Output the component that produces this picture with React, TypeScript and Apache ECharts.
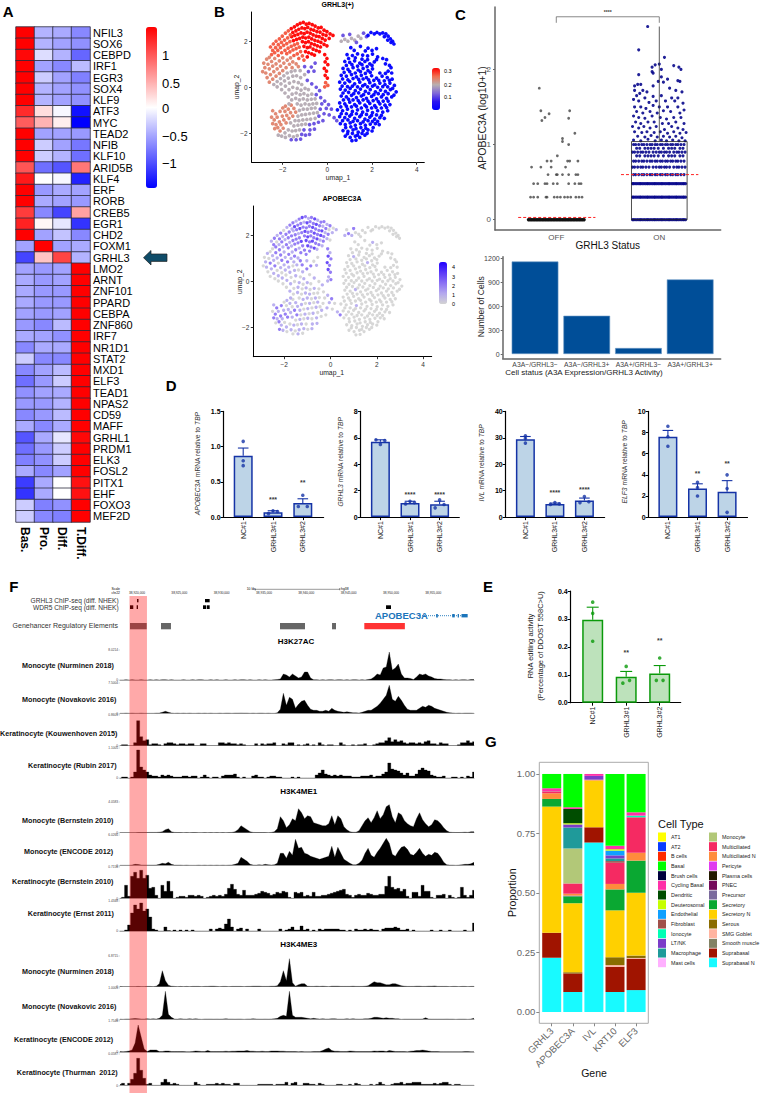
import React, { useEffect, useRef } from "react";
import * as echarts from "echarts";

const FONT = '"Liberation Sans", Arial, sans-serif';

// ---------- A: heatmap ----------
const heatGenes = ["NFIL3","SOX6","CEBPD","IRF1","EGR3","SOX4","KLF9","ATF3","MYC","TEAD2","NFIB","KLF10","ARID5B","KLF4","ERF","RORB","CREB5","EGR1","CHD2","FOXM1","GRHL3","LMO2","ARNT","ZNF101","PPARD","CEBPA","ZNF860","IRF7","NR1D1","STAT2","MXD1","ELF3","TEAD1","NPAS2","CD59","MAFF","GRHL1","PRDM1","ELK3","FOSL2","PITX1","EHF","FOXO3","MEF2D"];
const heatStages = ["Bas.","Pro.","Diff.","T.Diff."];
const heatValues = [
[1.5,-.45,-.5,-.7],[1.5,-.45,-.55,-.65],[1.45,-.2,-.45,-.9],[1.5,-.55,-.7,-.4],[1.5,-.3,-.55,-.75],[1.5,-.45,-.55,-.65],[1.5,-.45,-.55,-.65],[1.25,.2,-.05,-1.4],[.95,.45,.1,-1.5],[1.5,-.55,-.55,-.6],[1.5,-.3,-.55,-.8],[1.5,-.3,-.45,-.85],[1,-.85,-1,.8],[1.35,0,-.05,-1.3],[1.5,-.6,-.5,-.55],[1.5,-.5,-.55,-.6],[1.15,-.7,-1.1,.55],[1.3,.05,-.15,-1.2],[1.5,-.55,-.35,-.7],[-.55,1.5,-.55,-.5],[-1.1,.35,1.1,-.45],
[-.55,-.6,-.55,1.5],[-.5,-.6,-.55,1.5],[-.5,-.6,-.6,1.5],[-.5,-.6,-.6,1.5],[-.55,-.6,-.55,1.5],[-.6,-.7,-.4,1.5],[-.5,-.55,-.65,1.5],[-.7,-.5,-.5,1.5],[-.3,-.7,-.7,1.5],[-.7,-.55,-.4,1.5],[-.85,-.6,-.3,1.5],[-.65,-.55,-.5,1.5],[-.6,-.6,-.45,1.5],[-.7,-.6,-.4,1.5],[-.5,-.7,-.5,1.5],[-1,-.5,-.15,1.45],[-.85,-.6,-.3,1.5],[-.75,-.65,-.3,1.5],[-.5,-.7,-.55,1.5],[-1.15,-.5,0,1.4],[-1.2,-.5,0,1.4],[-.3,-.75,-.65,1.5],[-.3,-.7,-.75,1.5]];

// ---------- B: UMAP, [umap_1, umap_2, APOBEC3A], grouped by GRHL3(+) score ----------
const umapRed = [[-1.62,2.55,2],[-1.48,2.62,1],[-1.35,2.71,2],[-1.22,2.78,3],[-1.08,2.82,2],[-.95,2.74,1],[-.82,2.78,2],[-.68,2.72,3],[-.55,2.66,1],[-.41,2.58,2],[-.28,2.6,2],[-.15,2.48,1],[-.02,2.42,2],[.12,2.32,0],[.25,2.25,1],[-1.55,2.38,3],[-1.41,2.45,2],[-1.28,2.52,2],[-1.14,2.58,1],[-1.01,2.55,3],[-.88,2.6,2],[-.74,2.52,2],[-.61,2.48,3],[-.47,2.42,2],[-.33,2.4,1],[-.2,2.3,2],[-.06,2.25,0],[.08,2.12,1],[-1.6,2.2,1],[-1.46,2.25,2],[-1.32,2.3,3],[-1.18,2.36,2],[-1.04,2.33,2],[-.91,2.4,2],[-.77,2.35,3],[-.64,2.28,2],[-.5,2.22,2],[-.37,2.2,3],[-.23,2.12,1],[-.1,2.05,2],[-1.52,2.03,2],[-1.38,2.08,1],[-1.24,2.12,2],[-1.1,2.18,3],[-.97,2.14,2],[-.83,2.18,2],[-.7,2.1,3],[-.56,2.04,2],[-.42,2,3],[-.29,1.95,2],[-.15,1.86,1],[-.02,1.8,0],[-1.12,1.98,2],[-.98,1.94,3],[-.85,1.98,2],[-.72,1.9,2],[-.58,1.85,3],[-.45,1.8,1],[-.31,1.75,2],[-1.05,1.78,3],[-.9,1.72,2],[-.78,1.75,3],[-.64,1.66,2],[-.5,1.6,2],[-.36,1.55,1],[-.98,1.55,3],[-.84,1.5,2],[-.7,1.45,3],[-.58,1.4,1],[-.9,1.32,2],[-.12,1.42,2],[-.02,1.25,1],[-.1,1.1,3],[.02,.98,2],[-.14,.82,3],[-.04,.7,2],[-.1,.52,3],[0,.4,2]];
const umapOrange = [[-2.55,1.75,1],[-2.42,1.88,2],[-2.3,2,1],[-2.15,2.1,2],[-2.02,2.22,0],[-1.88,2.35,1],[-1.75,2.45,2],[-2.45,1.6,2],[-2.32,1.72,0],[-2.2,1.85,2],[-2.06,1.95,1],[-1.92,2.05,2],[-1.78,2.15,2],[-1.66,2.28,1],[-2.5,1.42,0],[-2.36,1.5,2],[-2.22,1.6,1],[-2.1,1.72,2],[-1.96,1.82,1],[-1.82,1.9,2],[-1.68,1.98,2],[-2.2,1.38,2],[-2.05,1.5,1],[-1.9,1.6,2],[-1.76,1.7,1],[-1.62,1.78,2],[-1.48,1.84,2],[-1.34,1.9,2],[-1.82,1.46,2],[-1.68,1.54,1],[-1.54,1.62,2],[-1.4,1.68,2],[-1.26,1.74,3],[-1.2,1.55,2],[-1.35,1.45,1],[-1.5,1.38,2],[-1.12,1.36,2],[-1.28,1.25,2],[-1.05,1.18,2],[-.08,.2,1],[.02,.08,2],[-.12,.02,1]];
const umapSalmon = [[-2.85,1.05,0],[-2.72,1.22,1],[-2.6,1.3,0],[-2.8,.85,1],[-2.66,1,0],[-2.5,1.12,1],[-2.36,1.25,2],[-2.9,.68,0],[-2.76,.62,1],[-2.6,.8,2],[-2.45,.92,1],[-2.3,1.02,1],[-2.15,1.15,2],[-2,1.28,1],[-2.7,.42,0],[-2.55,.55,1],[-2.4,.68,2],[-2.25,.8,0],[-2.1,.92,2],[-1.95,1.05,1],[-1.8,1.18,2],[-1.65,1.28,1],[-2.6,.22,0],[-2.45,.35,1],[-2.3,.48,0],[-2.15,.6,1],[-2,.72,1],[-1.85,.85,2],[-1.7,1,1],[-1.55,1.1,2],[-1.4,1.02,1],[-1.58,.85,1],[-1.3,.9,2],[-2.45,-1.02,1],[-2.32,-1.15,2],[-2.5,-1.3,0],[-2.38,-1.42,2],[-2.25,-1.3,1],[-2.12,-1.05,2],[-2,-.9,0],[-1.88,-.82,1],[-2.45,-1.58,2],[-2.3,-1.62,1],[-2.15,-1.5,2],[-2.02,-1.25,1],[-1.9,-1.05,0],[-1.75,-.95,1],[-2.36,-1.8,0],[-2.22,-1.75,2],[-2.08,-1.62,1],[-1.95,-1.42,2],[-1.82,-1.22,1],[-1.65,-1.1,0],[-2.12,-1.9,1],[-1.98,-1.78,0],[-1.85,-1.55,2],[-1.72,-1.35,1],[-1.55,-1.25,2],[-1.42,-1.08,1],[-1.62,-.78,0],[-1.5,-.92,1]];
const umapGrey = [[-2.4,.12,0],[-2.25,.25,1],[-2.1,.38,0],[-1.95,.5,1],[-1.8,.62,1],[-1.62,.68,0],[-1.45,.72,1],[-1.22,.72,2],[-2.25,.02,0],[-2.08,.15,1],[-1.92,.28,0],[-1.75,.4,1],[-1.55,.48,1],[-1.38,.5,0],[-1.2,.42,1],[-1.02,.55,2],[-2.05,-.1,0],[-1.88,.05,1],[-1.7,.18,0],[-1.5,.25,1],[-1.3,.2,0],[-1.15,.12,1],[-1.9,-.25,0],[-1.72,-.1,1],[-1.55,0,0],[-1.35,-.05,1],[-1.18,-.12,0],[-1,-.05,1],[-.85,-.1,0],[-1.75,-.42,1],[-1.58,-.3,0],[-1.4,-.25,1],[-1.22,-.32,0],[-1.05,-.28,1],[-.88,-.35,0],[-.7,-.3,1],[-1.6,-.55,0],[-1.42,-.48,1],[-1.25,-.55,0],[-1.08,-.5,1],[-.9,-.55,1],[-.72,-.52,0],[-.55,-.5,0],[-1.72,-.72,1],[-1.35,-.72,0],[-1.18,-.78,1],[-1,-.72,1],[-.82,-.75,0],[-.65,-.72,1],[-.48,-.7,0],[-1.25,-1,1],[-1.08,-.95,0],[-.9,-.95,1],[-.72,-.92,0],[-.55,-.9,1],[-1.32,-1.25,1],[-1.15,-1.2,0],[-.98,-1.18,1],[-.8,-1.15,0],[-.62,-1.12,1],[-.45,-1.1,0],[-1.45,-1.45,2],[-1.28,-1.45,0],[-1.1,-1.42,1],[-.92,-1.4,0],[-.75,-1.38,1],[-.55,-1.35,0],[-1.65,-1.55,1],[-1.5,-1.68,0],[-1.32,-1.65,1],[-1.15,-1.62,0],[-.98,-1.6,1],[-1.9,-1.98,1],[-1.75,-1.85,0],[-1.58,-1.9,1],[-1.42,-1.88,0],[-1.25,-1.85,1],[-2.2,-2.08,2],[-2.05,-2.12,1],[-1.88,-2.18,0],[-1.7,-2.1,1],[-1.52,-2.15,0],[-1.35,-2.1,1],[.62,2,1],[.78,2.08,2],[.92,2,1],[1.08,2.12,0],[1.22,2.05,0],[1.38,2.22,0],[1.5,2.12,0]];
const umapMid = [[-1.02,.9,1],[-.85,.68,2],[-.72,.88,0],[-.6,.7,1],[-.55,1.05,0],[-.9,.3,0],[-.7,.15,1],[-.5,0,0],[-.35,-.15,1],[-.5,-.32,0],[-.3,-.45,0],[-.12,-.6,1],[.05,-.75,2],[-.25,-.72,0],[-.05,-.92,1],[.18,-.95,0],[-.32,-.95,0],[-.15,-1.15,1],[.08,-1.2,0],[.3,-1.32,1],[-.38,-1.25,1],[-.2,-1.45,0],[.42,-1.45,2],[-.4,-1.52,0],[-.6,-1.58,1],[-.8,-1.62,0],[-.58,-1.82,1],[-.78,-1.85,1],[-1.05,-1.85,0],[-1.15,-2.05,1],[-.98,-2.08,0],[-.8,-2.05,1],[-1.2,-2.25,0],[-1.4,-2.28,1],[-1.62,-2.28,0],[.7,2.25,0],[1,2.3,2],[1.3,1.95,0],[1.62,2.35,0],[1.75,2.2,0]];
const umapBlue = [[1.05,1.72],[1.48,1.78],[1.82,1.7,1],[2.2,1.68],[.88,1.42],[1.12,1.38],[1.35,1.45],[1.58,1.4],[1.8,1.36],[2.02,1.44],[2.25,1.32],[2.48,1.25],[.78,1.12],[1,1.08,1],[1.22,1.15],[1.45,1.05],[1.68,1.12],[1.9,1.02],[2.1,1.1],[2.6,1.02],[2.78,.95],[.7,.82],[.92,.78],[1.15,.85],[1.38,.75],[1.6,.82,1],[1.82,.72],[2.02,.8],[2.72,.7],[2.88,.62],[.62,.52],[.85,.48],[1.08,.55],[1.3,.45],[1.52,.52],[1.75,.42],[1.98,.5],[2.2,.4],[2.45,.48],[2.68,.42],[2.9,.35],[.55,.22],[.78,.18],[1,.25],[1.22,.15],[1.45,.22],[1.68,.12],[1.9,.2],[2.12,.1],[2.35,.18],[2.58,.12],[2.8,.18],[3,.08],[.58,-.08],[.8,-.12],[1.02,-.05],[1.25,-.15],[1.48,-.08],[1.7,-.18],[1.92,-.1],[2.15,-.2],[2.38,-.12],[2.6,-.18],[2.82,-.1],[3.08,-.2],[.62,-.38],[.85,-.42],[1.08,-.35,1],[1.3,-.45],[1.52,-.38],[1.75,-.48],[1.98,-.4],[2.2,-.5],[2.42,-.42],[2.65,-.48],[2.88,-.42],[.55,-.68],[.78,-.72],[1,-.65],[1.22,-.75],[1.45,-.68],[1.68,-.78],[1.9,-.7],[2.12,-.8],[2.35,-.72],[2.58,-.78],[2.8,-.75],[.45,-.98],[.68,-1.02],[.9,-.95],[1.12,-1.05,1],[1.35,-.98],[1.58,-1.08],[1.8,-1],[2.02,-1.1],[2.25,-1.02],[2.48,-1.08],[2.7,-1.02],[.55,-1.28],[.78,-1.32],[1,-1.25],[1.22,-1.35],[1.45,-1.28],[1.68,-1.38],[1.9,-1.3],[2.12,-1.38],[2.35,-1.32],[2.55,-1.35],[.58,-1.58],[.8,-1.62],[1.02,-1.55],[1.25,-1.65],[1.48,-1.58],[1.7,-1.65],[1.92,-1.6],[2.15,-1.58],[2.32,-1.62],[.7,-1.88],[.92,-1.92],[1.15,-1.85],[1.38,-1.95],[1.6,-1.88],[1.82,-1.85],[2,-1.9],[.8,-2.12],[1.02,-2.18],[1.25,-2.12],[1.45,-2.18],[1.68,-2.08],[1.1,-2.32],[1.28,-2.3],[1.82,2.25],[1.95,2.38],[2.1,2.32],[2.22,2.38],[2.35,2.32],[2.48,2.36],[2.62,2.32],[2.72,2.22],[2.82,2.1],[2.92,2],[2.98,1.88],[2.85,1.95],[2.7,2.05],[2.55,2.2],
[1.2,1.6],[1.7,1.58],[2,1.6],[.95,1.25],[1.25,1.28],[1.55,1.22],[1.8,1.2],[2.2,1.2],[2.65,1.2],[.85,.95],[1.1,.98],[1.35,.92],[1.55,.98],[1.78,.9],[2,.95],[2.85,.85],[.75,.65],[1,.68],[1.25,.62],[1.48,.68],[1.7,.6],[1.92,.65],[2.35,.62],[2.6,.6],[.68,.36],[.92,.32],[1.15,.38],[1.4,.34],[1.6,.36],[1.85,.32],[2.08,.3],[2.3,.3],[2.55,.28],[2.78,.3],[.66,.05],[.9,.03],[1.12,.05],[1.35,.02],[1.58,.06],[1.8,.02],[2.02,.05],[2.25,0],[2.48,.03],[2.7,.02],[2.92,-.05],[.7,-.25],[.95,-.22],[1.18,-.28],[1.4,-.24],[1.62,-.32],[1.85,-.26],[2.08,-.32],[2.28,-.28],[2.5,-.32],[2.72,-.28],[2.98,-.34],[.72,-.55],[.95,-.52],[1.15,-.55],[1.38,-.58],[1.6,-.55],[1.82,-.6],[2.05,-.58],[2.28,-.62],[2.5,-.6],[2.72,-.6],[.6,-.85],[.85,-.82],[1.08,-.85],[1.3,-.82],[1.52,-.9],[1.75,-.85],[1.98,-.9],[2.18,-.88],[2.42,-.9],[2.65,-.88],[.62,-1.15],[.85,-1.15],[1.08,-1.18],[1.3,-1.15],[1.52,-1.2],[1.75,-1.18],[1.98,-1.22],[2.2,-1.2],[2.42,-1.22],[.68,-1.45],[.92,-1.42],[1.15,-1.48],[1.35,-1.45],[1.6,-1.5],[1.82,-1.45],[2.02,-1.48],[2.25,-1.48],[.82,-1.75],[1.05,-1.72],[1.28,-1.8],[1.5,-1.75],[1.72,-1.78],[2.05,-1.75],[.9,-2.02],[1.12,-2],[1.35,-2.08],[1.55,-2],[1.78,-2]];
const umapGroups = [{ score: .325, pts: umapRed }, { score: .275, pts: umapOrange }, { score: .24, pts: umapSalmon }, { score: .19, pts: umapGrey }, { score: .11, pts: umapMid }, { score: 0, pts: umapBlue }];

// ---------- C: jitter plot, offset from group centre per discrete level ----------
const offLevel0 = [-.27,-.255,-.24,-.225,-.21,-.195,-.18,-.165,-.15,-.135,-.12,-.105,-.09,-.075,-.06,-.045,-.03,-.015,0,.015,.03,.045,.06,.075,.09,.105,.12,.135,.15,.165,.18,.195,.21,.225,.24,.255,.27];
const offRows = [[.3,[-.25,-.22,-.18,-.1,-.09,-.02,.01,.04,.08,.11,.14,.19,.22,.25]],[.48,[-.22,-.18,-.11,-.09,-.03,.01,.12,.18,.22,.24]],[.6,[-.08,0,.01,.06,.12,.19,.21]],[.7,[-.24,-.15,-.05,.09]],[.78,[-.09,-.05,.11,.13,.21]],[.85,[.01]]];
const offScatter = [[.06,1.08],[.06,1.04],[.12,1],[.18,1.15],[.12,1.35],[.13,1.45],[-.15,1.45],[-.14,1.32],[-.11,1.36],[-.07,1.41],[-.165,1.75]];
const onDense = [-.26,-.25,-.235,-.22,-.205,-.19,-.18,-.165,-.15,-.135,-.12,-.11,-.095,-.08,-.065,-.05,-.04,-.025,-.01,.005,.02,.03,.045,.06,.075,.09,.1,.115,.13,.145,.16,.17,.185,.2,.215,.23,.24,.255];
const onRowA = [-.25,-.23,-.2,-.17,-.15,-.12,-.09,-.07,-.04,-.02,.01,.03,.06,.08,.11,.13,.16,.18,.21,.24];
const onRowB = [-.26,-.24,-.21,-.18,-.16,-.13,-.1,-.06,-.03,0,.02,.05,.07,.1,.14,.17,.19,.22,.25];
const onRowC = [-.22,-.19,-.14,-.11,-.08,-.05,-.01,.04,.09,.12,.15,.2,.23];
const onRows = [[0,onDense],[.3,onDense],[.48,onDense],[.6,onRowA],[.7,onRowB],[.78,onRowA],[.85,onRowC],[.9,onRowB],[.95,onRowC],[1,onRowA]];
const onScatter = [[-.113,2.57],[-.2,2.26],[.05,2.16],[0,2.07],[-.04,2.06],[-.07,2.03],[.14,2.05],[.19,2.03],[.21,2],[.02,2],[-.07,1.97],[-.2,1.93],[-.06,1.95],[.02,1.9],[.08,1.87],[.04,1.83],[.2,1.84],[.18,1.85],[-.01,1.84],[-.18,1.8],[-.21,1.8],[-.24,1.78],[-.06,1.78],[.1,1.75],[.16,1.72],[.22,1.7],[-.24,1.72],[-.16,1.72],[-.19,1.68],[-.12,1.7],[-.22,1.65],[-.14,1.62],[-.06,1.64],[.02,1.65],[.12,1.62],[.18,1.62],[-.25,1.6],[-.2,1.58],[-.1,1.56],[-.03,1.58],[.06,1.58],[.15,1.58],[.23,1.55],[-.24,1.5],[-.18,1.5],[-.13,1.48],[-.06,1.52],[0,1.5],[.08,1.5],[.18,1.5],[.24,1.46],[-.22,1.44],[-.16,1.42],[-.09,1.44],[-.02,1.42],[.04,1.45],[.11,1.44],[.2,1.42],[-.25,1.38],[-.2,1.36],[-.14,1.35],[-.07,1.38],[.01,1.36],[.07,1.34],[.14,1.36],[.21,1.36],[-.23,1.3],[-.18,1.28],[-.11,1.3],[-.05,1.3],[.03,1.28],[.09,1.28],[.16,1.3],[.24,1.28],[-.26,1.24],[-.2,1.22],[-.15,1.24],[-.09,1.22],[-.03,1.24],[.05,1.2],[.12,1.24],[.18,1.22],[.23,1.2],[-.24,1.17],[-.17,1.16],[-.12,1.17],[-.05,1.16],[.01,1.17],[.08,1.15],[.14,1.17],[.2,1.15],[.26,1.16],[-.21,1.11],[-.14,1.1],[-.08,1.12],[-.02,1.1],[.04,1.11],[.1,1.1],[.16,1.11],[.22,1.09],[-.25,1.06],[-.18,1.05],[-.11,1.07],[-.04,1.05],[.02,1.06],[.07,1.05],[.13,1.06],[.19,1.05],[.25,1.05]];
const onBox = [[.73,0],[.73,1.04],[1.27,1.04],[1.27,0],[.73,0]];
const onWhisker = [[1,1.04],[1,2.57]];
const medianOff = [[-.37,.03],[.38,.03]];
const medianOn = [[.628,.6],[1.379,.6]];
const sigBracket = [[0,2.62],[0,2.7],[1,2.7],[1,2.62]];
const cellStatus = ["A3A\u2212/GRHL3\u2212","A3A\u2212/GRHL3+","A3A+/GRHL3\u2212","A3A+/GRHL3+"];
const cellCounts = [1160,480,75,935];

// ---------- D/E: qPCR ----------
const qCats = ["NC#1","GRHL3#1","GRHL3#2"];
const qApobec = { bars: [.87,.07,.2], errs: [.98,.09,.26], dots: [[.0,1.075],[0,.8],[0,.73],[-.15,.05],[0,.09],[.15,.08],[0,.31],[-.15,.15],[.15,.15]], stars: [[1,.27,"***"],[2,.51,"**"]] };
const qGrhl3 = { bars: [5.7,1.07,.97], errs: [5.85,1.2,1.2], dots: [[-.15,5.85],[0,5.5],[.15,5.8],[-.15,1],[0,1.2],[.15,1.1],[-.15,.7],[0,1.3],[.15,.95]], stars: [[1,1.81,"****"],[2,1.81,"****"]] };
const qIvl = { bars: [29.5,5,6.3], errs: [30.5,5.3,7.2], dots: [[0,30.8],[0,29.8],[0,28],[-.15,4.8],[0,5.5],[.15,5],[-.15,5.5],[0,7.8],[.15,5.8]], stars: [[1,9.7,"****"],[2,10.9,"****"]] };
const qElf3 = { bars: [7.6,2.7,2.4], errs: [8.2,3.15,3.45], dots: [[0,8.6],[0,7.6],[0,6.7],[0,3.3],[0,2.8],[0,2],[0,4],[0,2.7],[0,.45]], stars: [[1,4.29,"**"],[2,5.23,"**"]] };
const qEdit = { bars: [.297,.093,.105], errs: [.342,.112,.133], dots: [[0,.36],[0,.32],[0,.22],[-.1,.07],[0,.13],[.1,.08],[-.1,.08],[0,.16],[.1,.08]], stars: [[1,.186,"**"],[2,.228,"**"]] };

// ---------- F: genome tracks, signal height per 118 equal bins ----------
const genomeMin = 38917.99;
const genomeMax = 38959.88;
const chipGrhl3 = [[38920,38920.18],[38928.05,38928.6]];
const chipWdr5 = [[38919.17,38919.56],[38919.96,38920.12],[38927.81,38928.17],[38928.25,38928.6],[38949.47,38950.06]];
const enhancersGrey = [[38919.17,38921.15],[38922.84,38924.02],[38936.92,38939.88],[38943.08,38943.55]];
const enhancersRed = [[38946.9,38951.7]];
const highlightBand = [[38919.11,38921.18]];
const geneLine = [[38953.49,29.7],[38959.13,29.7]];
const geneExons = [[38955.4,38955.6],[38957.3,38957.6],[38957.95,38958.1],[38958.4,38959.13]];
const scaleBar = [[38934,2.3],[38934,4.3],[38934,3.3],[38944,3.3],[38944,2.3],[38944,4.3]];
const coordLabels = ["38,920,000","38,925,000","38,930,000","38,935,000","38,940,000","38,945,000","38,950,000","38,955,000"];

const t1 = [0,0,.3,0,.3,0,0,.3,0,0,.3,0,.3,0,.3,.3,0,.3,0,0,0,.3,0,0,.3,0,.3,.3,0,0,.3,0,.3,0,0,.3,0,0,.3,0,.3,.3,0,.3,0,0,.3,0,.3,0,0,.3,.5,1,6,5,3,6,4,2,3,8,8,2,.3,.3,0,.3,0,.3,.3,0,.3,.3,0,.3,0,.3,.3,0,.3,0,.5,1,3,6,5,12,13,28,10,12,16,6,2,2,1.5,.5,3,6,5,6,4,3,1.5,1,1,.5,.3,.3,0,.3,0,.3,.3,0,.5,.5];
const t2 = [0,0,.2,0,.2,0,0,.2,0,0,0,0,.2,.2,1,2,1,.3,0,.2,0,.2,0,.2,0,0,.2,0,.2,0,.2,0,0,.2,0,.2,.2,0,.2,.2,.3,.2,.2,0,.2,0,.2,.2,0,.2,0,0,.5,4,20,8,16,14,5,9,12,13,8,4,3,3,2,2,3,2,5,3,2,1.5,1,1.5,1,.5,.5,.3,1,2,3,3,5,7,10,14,18,28,14,12,17,13,8,4,3,3,3,5,7,6,8,7,5,4,3,2,1,.5,.3,0,.2,0,.2,.2,.2,0];
const t3 = [0,1,1,0,0,3,25,9,5,6,1,2,2,1,0,2,3,3,2,1,2,2,1,2,2,0,0,2,2,0,0,0,0,3,3,2,3,2,2,1,2,1,0,0,0,2,0,2,1,2,2,3,0,0,2,1,3,3,0,1,0,1,2,0,1,0,3,1,0,1,1,0,0,3,1,0,0,1,0,1,1,2,0,0,1,2,3,3,5,8,4,6,4,5,3,2,3,3,2,3,2,4,5,2,2,1,3,2,2,0,0,0,1,3,3,5,3,4];
const t4 = [0,1,1,0,1,6,28,11,8,6,3,2,2,1,3,2,3,2,1,1,1,2,2,1,2,2,0,1,3,1,0,1,1,0,2,3,3,3,4,1,0,1,0,0,2,3,1,1,0,1,2,2,1,1,0,0,0,1,0,1,0,0,0,0,0,3,5,8,4,3,2,3,2,3,2,2,2,1,1,1,2,2,2,3,1,2,2,4,6,15,9,8,7,5,3,5,2,2,4,8,10,8,7,3,2,1,1,2,0,0,1,1,0,1,0,2,1,6];
const t5 = [0,0,0,0,0,0,.2,.2,.2,.2,.3,.3,.3,.5,1,3,4,1,.3,.2,.2,0,.2,0,.2,.2,0,0,.2,0,.2,0,.2,0,.2,0,.2,.3,1,3,7,5,3,1,.3,.2,.2,.2,.2,0,.3,1,4,16,12,5,8,14,12,24,20,14,17,16,10,9,8,7,7,9,17,8,17,14,6,3,1,.5,.5,2,7,12,15,10,15,22,14,18,26,28,16,10,20,18,12,9,7,6,14,20,13,9,6,8,13,12,9,5,2,.5,.3,.2,.2,.3,.5,.3,1,1];
const t6 = [0,0,0,0,.3,1,.8,.3,.2,.2,.2,.2,.3,1,2,1.5,3,1,.2,.2,.2,0,.2,0,0,0,.2,0,.2,0,.2,0,.2,0,.2,0,.2,.3,1,2,8,6,4,1,.3,.2,.5,.2,1,.5,.3,.5,2,12,12,7,14,10,26,17,18,12,11,9,8,7,6,7,8,9,19,8,18,12,6,4,2,.5,.5,2,5,12,17,10,8,13,17,22,27,22,11,9,14,18,19,16,11,10,13,17,12,9,11,10,13,12,8,3,.5,.2,.2,0,.2,.5,1,1,1.5,3];
const t7 = [0,1,13,2,22,26,20,28,20,23,10,11,3,0,13,7,17,7,0,1,2,2,1,3,3,2,3,2,0,1,2,3,2,3,2,4,10,14,9,4,3,8,3,3,3,4,5,7,6,5,3,4,6,5,7,6,1,0,6,5,6,2,3,2,6,2,2,3,3,4,5,6,7,8,9,4,3,1,3,4,3,3,5,4,3,3,4,4,12,22,11,9,10,7,9,2,0,6,6,2,13,7,7,1,0,3,3,4,0,3,1,0,1,11,3,1,3,8];
const t8 = [0,0,1,6,18,26,22,28,20,22,14,2,1,0,0,4,.5,0,1,0,1,0,1,0,1,0,0,0,0,0,2,0,2,3,2,7,12,4,0,2,3,0,2,0,0,0,2,0,0,0,0,0,0,2,0,1,2,4,1,1,5,1,2,0,1,0,2,1,2,2,2,2,2,1,1,0,1,0,2,1,1,2,1,2,1,1,0,2,3,3,3,4,3,1,1,2,0,1,0,0,0,0,0,1,0,0,1,0,0,1,0,0,0,0,1,0,0,8];
const t9 = [.3,0,0,0,0,0,.3,0,0,.3,.3,0,.5,3,16,6,1.5,.5,.3,0,.3,0,.3,0,.3,.3,.3,0,.3,.3,.5,.5,.3,0,.3,.3,0,.3,.3,.3,.3,0,.3,.3,.5,.5,.5,.3,.3,.3,.5,.5,1,5,16,6,28,4,.5,2,3,3,.5,.3,.3,.5,.3,.5,.3,0,.5,.5,.5,.3,.3,.3,.3,.5,.3,.3,.3,.5,1,3,5,4,4,3,2,2,3,3,2,1,.5,.3,.3,.3,.5,.5,.3,.3,.5,.5,.8,.3,.3,.3,.3,0,.3,.3,0,.3,.3,0,.3,.3];
const t10 = [.2,0,.3,.3,.5,.8,.5,.3,.3,.5,.3,.5,.2,1,4,28,5,2,.3,.2,.5,.3,.2,.5,.2,.5,.2,0,.3,.3,.3,.2,.3,.2,.3,.5,.3,.3,.2,.3,.3,0,.3,.3,.5,.3,.2,.2,.3,.2,.3,.5,1,3,4,3,28,4,2,2,2,1.5,1,.5,1,.5,.3,.5,.3,.3,.5,.5,.2,.2,.2,.5,.2,.5,.3,.2,.3,.5,.5,1,2,2,1.5,1,1.5,1,1,.5,.5,0,.2,.2,.2,.2,.2,.2,.3,1.5,.3,.2,.2,.2,.2,.2,.3,.2,.2,0,.2,.2,.2,0,.3,1];
const t11 = [.5,.3,.5,1,2,9,27,15,3,.5,2,2,2,.5,.5,1,1,.5,.5,.5,.5,.5,.3,.3,.5,1,.8,.5,.5,1.5,.5,.5,.5,.5,.5,.8,.5,.8,.8,1,1,1,1.5,.8,.8,.5,.5,.8,.5,.5,1,1,1,.8,.8,.5,.5,.5,.5,.3,.5,.3,.3,.3,.5,.5,.5,1.5,3,4,1.5,.8,.8,.5,.5,.5,1,.8,.5,.5,.5,.5,.5,.5,1,.8,1,1,.5,1.5,1,.5,.5,.5,.5,.3,.8,1,1.5,1.5,2,1.5,1,.5,.5,.5,.3,.3,.3,.3,.3,.3,.3,.3,.5,.5,.3,.3];
const t12 = [1,2,0,2,6,12,27,15,7,1,2,0,0,0,3,6,3,1,2,1,0,0,0,0,0,3,1,0,0,1,1,1,2,1,2,1,1,0,2,2,0,0,0,0,0,0,1,1,1,1,1,0,1,1,1,3,0,2,3,0,0,2,2,1,1,0,2,1,0,0,0,0,1,1,0,0,1,0,2,1,0,0,0,1,0,1,3,1,0,0,1,2,2,3,1,2,2,3,3,3,1,1,1,1,2,1,2,3,3,1,0,1,1,0,0,0,0,0];
const trackSignals = [t1,t2,t3,t4,t5,t6,t7,t8,t9,t10,t11,t12];
const blockyTracks = [2,3,6,7,11];
const trackNames = ["Monocyte (Nurminen 2018)","Monocyte (Novakovic 2016)","Keratinocyte (Kouwenhoven 2015)","Keratinocyte (Rubin 2017)","Monocyte (Bernstein 2010)","Monocyte (ENCODE 2012)","Keratinocyte (Bernstein 2010)","Keratinocyte (Ernst 2011)","Monocyte (Nurminen 2018)","Monocyte (Novakovic 2016)","Keratinocyte (ENCODE 2012)","Keratinocyte (Thurman  2012)"];
const trackMaxLabels = ["8.0214","7.5004","0.8601","1.1005","4.0583","6.0266","0.7156","1.4348","6.8715","1.0005","1.7546","0.0587"];
const trackLabelX = [22,22,0,28,22,24,12,27.7,22,22,14,16.7];
const trackLabelY = [665,699.3,733.7,765,820.7,851.7,881.7,913.3,971.7,1006,1039.3,1072];
const trackTops = [650,682.7,715,747.7,802,834.7,867,900.7,956,988,1021,1054];
const trackBases = [680,713.3,745.7,778,832.7,865.3,898.3,931,986.7,1019.3,1052,1085.3];

// ---------- G: stacked proportions, bottom to top ----------
const geneNames = ["GRHL3","APOBEC3A","IVL","KRT10","ELF3"];
const cellTypesA = ["AT1","AT2","B cells","Basal","Brush cells","Cycling Basal","Dendritic","Deuterosomal","Endothelial","Fibroblast","Ionocyte","LT/NK","Macrophage","Mast cells"];
const cellTypesB = ["Monocyte","Multiciliated","Multiciliated N","Pericyte","Plasma cells","PNEC","Precursor","Secretory","Secretory N","Serous","SMG Goblet","Smooth muscle","Suprabasal","Suprabasal N"];
const cellColors: Record<string, string> = { "AT1":"#ffff00","AT2":"#0a3cff","B cells":"#ff2a00","Basal":"#00ff00","Brush cells":"#00003c","Cycling Basal":"#ff30a8","Dendritic":"#004d00","Deuterosomal":"#c6ff00","Endothelial":"#0fa0ff","Fibroblast":"#a0504a","Ionocyte":"#00ffb4","LT/NK":"#7b3cc8","Macrophage":"#1f9a9a","Mast cells":"#ffb0ff","Monocyte":"#b2c878","Multiciliated":"#f52a62","Multiciliated N":"#ff8c3c","Pericyte":"#e03cf0","Plasma cells":"#231a00","PNEC":"#740a5a","Precursor":"#7a6a9c","Secretory":"#0aa832","Secretory N":"#ffd000","Serous":"#8a6c00","SMG Goblet":"#ffb4a0","Smooth muscle":"#828264","Suprabasal":"#a01400","Suprabasal N":"#18faff" };
const cellShares: [string, number[]][] = [
["Suprabasal N",[.228,.084,.712,.084,.092]],["Suprabasal",[.105,.078,.064,.106,.132]],["SMG Goblet",[0,0,0,.007,.003]],["Serous",[0,.005,0,.033,.01]],["Secretory N",[.53,.29,.196,.197,.264]],["Secretory",[.032,.029,0,.088,.135]],["Precursor",[0,.003,0,0,0]],["Multiciliated N",[.024,.008,.004,.023,.033]],["Multiciliated",[.006,.043,0,.089,.149]],["Monocyte",[0,.147,0,0,0]],["Fibroblast",[.002,0,0,.007,0]],["Macrophage",[0,.088,0,.011,0]],["LT/NK",[0,.013,.016,.013,0]],["Ionocyte",[0,0,0,0,.007]],["Endothelial",[0,0,0,.02,0]],["Deuterosomal",[0,.005,0,.006,0]],["Dendritic",[0,.06,0,0,0]],["Cycling Basal",[.013,.007,.008,.014,.014]],["Basal",[.06,.14,0,.302,.161]]];

// ---------- helpers ----------
function T(x: number, y: number, text: string, o: any = {}) {
  const align = o.align || "left";
  const style: any = { text, fontSize: o.size || 8, fontWeight: o.weight || "normal", fontFamily: FONT, fill: o.fill || "#000", textAlign: align, align, textVerticalAlign: "middle", verticalAlign: "middle" };
  if (o.rich) style.rich = o.rich;
  return { type: "text", x, y, z: 100, rotation: o.rot || 0, silent: true, style };
}
const numFmt = (v: number) => (v < 0 ? "\u2212" + Math.abs(v) : String(v));

export default function App() {
  const ref = useRef<HTMLDivElement>(null);
  useEffect(() => {
    const chart = echarts.init(ref.current!, undefined, { renderer: "svg" });
    const grid: any[] = [], xAxis: any[] = [], yAxis: any[] = [], series: any[] = [], visualMap: any[] = [];
    const addGrid = (l: number, t: number, w: number, h: number, xa: any, ya: any, g: any = {}) => {
      const i = grid.length;
      grid.push({ left: l, top: t, width: w, height: h, ...g });
      const off = { splitLine: { show: false } };
      xAxis.push({ gridIndex: i, ...off, ...xa, axisLine: { onZero: false, ...(xa.axisLine || {}) } });
      yAxis.push({ gridIndex: i, ...off, ...ya, axisLine: { onZero: false, ...(ya.axisLine || {}) } });
      return i;
    };
    const add = (i: number, s: any) => { series.push({ xAxisIndex: i, yAxisIndex: i, silent: true, ...s }); return series.length - 1; };
    const lineS = (i: number, data: any[], color: string, width = 1, extra: any = {}) => add(i, { type: "line", data, symbol: "none", lineStyle: { color, width, ...(extra.ls || {}) }, z: extra.z || 5, clip: false });

    // A
    const aG = addGrid(16, 27, 74, 495, {
      type: "category", data: heatStages, axisLine: { show: false }, axisTick: { show: false },
      axisLabel: { rotate: -90, fontSize: 12, fontWeight: "bold", color: "#000", margin: 5, interval: 0 },
    }, {
      type: "category", data: heatGenes, inverse: true, position: "right", axisLine: { show: false }, axisTick: { show: false },
      axisLabel: { fontSize: 11, color: "#000", margin: 3, interval: 0 },
    });
    const heatData: number[][] = [];
    heatValues.forEach((r, j) => r.forEach((v, k) => heatData.push([k, j, v])));
    const aS = add(aG, { type: "heatmap", data: heatData, itemStyle: { borderColor: "#2b2b3c", borderWidth: .8 } });
    visualMap.push({ type: "continuous", seriesIndex: aS, dimension: 2, min: -1.5, max: 1.5, left: 146, top: 27, itemWidth: 11, itemHeight: 161, padding: 0, calculable: false, inRange: { color: ["#0000ff", "#ffffff", "#ff0000"] }, text: null, showLabel: false });

    // B
    const umapData: number[][] = [];
    umapGroups.forEach((g) => g.pts.forEach((p: number[]) => umapData.push([p[0], p[1], g.score, p[2] || 0])));
    const umapAxis = (xTicks: number[], yTicks: number[]) => ({
      x: { type: "value", min: 0, max: 0, axisLine: { lineStyle: { color: "#000", width: 1 } }, axisTick: { show: true, length: 2.5, lineStyle: { color: "#333" }, customValues: xTicks }, axisLabel: { fontSize: 6.5, color: "#333", margin: 4, customValues: xTicks, formatter: numFmt } },
      y: { type: "value", min: 0, max: 0, axisLine: { lineStyle: { color: "#000", width: 1 } }, axisTick: { show: true, length: 2.5, lineStyle: { color: "#333" }, customValues: yTicks }, axisLabel: { fontSize: 6.5, color: "#333", margin: 4, customValues: yTicks, formatter: numFmt } },
    });
    const u1 = umapAxis([-2, 0, 2, 4], [-2, 0, 2]);
    const b1 = addGrid(251.7, 12, 172.6, 150.3, { ...u1.x, min: -3.39, max: 4.34 }, { ...u1.y, min: -3.26, max: 3.27 });
    const b1S = add(b1, { type: "scatter", data: umapData, symbolSize: 3.7, itemStyle: { opacity: .95 } });
    visualMap.push({ type: "continuous", seriesIndex: b1S, dimension: 2, min: 0, max: .325, left: 432, top: 68, itemWidth: 8, itemHeight: 42, padding: 0, calculable: false, inRange: { color: ["#0000ff", "#2a14f0", "#8068d8", "#b8b0b0", "#f07050", "#ff0000"] }, text: null, showLabel: false });
    const u2 = umapAxis([-2, 0, 2, 4], [-2, 0, 2]);
    const b2 = addGrid(253.3, 206, 178.4, 150.7, { ...u2.x, min: -3.33, max: 4.37 }, { ...u2.y, min: -3.27, max: 3.28 });
    const b2S = add(b2, { type: "scatter", data: umapData, symbolSize: 3.3, itemStyle: { opacity: .9 } });
    visualMap.push({ type: "continuous", seriesIndex: b2S, dimension: 3, min: 0, max: 4, left: 439, top: 262, itemWidth: 8, itemHeight: 42, padding: 0, calculable: false, inRange: { color: ["#d3d3d3", "#b4a8ee", "#8a70f4", "#5a38f8", "#2000ff"] }, text: null, showLabel: false });

    // C scatter
    const cx = { axisLine: { lineStyle: { color: "#666", width: 1.5 } } };
    const c1 = addGrid(495, 7, 225.7, 223, {
      type: "value", min: -.595, max: 1.596, ...cx, axisTick: { show: false, customValues: [0, 1] },
      axisLabel: { customValues: [0, 1], formatter: (v: number) => (v < .5 ? "OFF" : "ON"), fontSize: 8, color: "#555", margin: 3 },
    }, {
      type: "value", min: -.137, max: 2.83, ...cx, axisTick: { show: true, length: 2, lineStyle: { color: "#666" }, customValues: [0, 1, 2] },
      axisLabel: { customValues: [0, 1, 2], fontSize: 8, color: "#555", margin: 4 },
    });
    const offPts: number[][] = offLevel0.map((d) => [d, 0]);
    const offUpper: number[][] = [];
    offRows.forEach(([y, xs]: any) => xs.forEach((d: number) => offUpper.push([d, y])));
    offScatter.forEach((p) => offUpper.push(p));
    add(c1, { type: "scatter", data: offPts, symbolSize: 3.4, itemStyle: { color: "#111", opacity: 1 } });
    add(c1, { type: "scatter", data: offUpper, symbolSize: 2.8, itemStyle: { color: "#444", opacity: .8 } });
    const onPts: number[][] = [];
    onRows.forEach(([y, xs]: any) => xs.forEach((d: number) => onPts.push([1 + d, y])));
    onScatter.forEach((p) => onPts.push([1 + p[0], p[1]]));
    add(c1, { type: "scatter", data: onPts, symbolSize: 3.1, itemStyle: { color: "#08088c", opacity: .9 } });
    lineS(c1, onBox, "#222", .8);
    lineS(c1, onWhisker, "#333", .8);
    lineS(c1, sigBracket, "#555", .7);
    lineS(c1, medianOff, "#ff2020", 1, { ls: { type: [3, 2] }, z: 7 });
    lineS(c1, medianOn, "#ff2020", 1, { ls: { type: [3, 2] }, z: 7 });

    // C bars
    const c2 = addGrid(502.7, 256.7, 218, 101.6, {
      type: "value", min: -.625, max: 3.59, ...cx, axisTick: { show: false, customValues: [0, 1, 2, 3] },
      axisLabel: { customValues: [0, 1, 2, 3], formatter: (v: number) => cellStatus[v], fontSize: 6.8, color: "#444", margin: 3, hideOverlap: false },
    }, {
      type: "value", min: -53.9, max: 1220, ...cx, axisTick: { show: true, length: 2, lineStyle: { color: "#666" }, customValues: [0, 300, 600, 900, 1200] },
      axisLabel: { customValues: [0, 300, 600, 900, 1200], fontSize: 7, color: "#444", margin: 3, formatter: (v: number) => String(v) },
    });
    add(c2, { type: "bar", data: cellCounts.map((v, i) => [i, v]), barWidth: 46.7, itemStyle: { color: "#004e98", borderColor: "#6d9ac6", borderWidth: .6 } });

    // D / E helper
    const qPanel = (l: number, top: number, w: number, h: number, ymax: number, step: number, dec: number, cap: number, first: number, spacing: number, d: any, fill: string, stroke: string, barW: number) => {
      const i = addGrid(l, top, w, h, {
        type: "value", min: -first / spacing, max: (w - first) / spacing, axisLine: { lineStyle: { color: "#000", width: 1.2 } },
        axisTick: { show: true, length: 3, lineStyle: { color: "#000", width: 1 }, customValues: [0, 1, 2] },
        axisLabel: { customValues: [0, 1, 2], formatter: (v: number) => qCats[v], rotate: 90, fontSize: 7, color: "#222", margin: 4, hideOverlap: false },
      }, {
        type: "value", min: 0, max: ymax, interval: step, axisLine: { lineStyle: { color: "#000", width: 1.2 } },
        axisTick: { show: true, length: 3, lineStyle: { color: "#000", width: 1 } },
        axisLabel: { fontSize: 7, fontWeight: "bold", color: "#000", margin: 3, formatter: (v: number) => v.toFixed(dec) },
      });
      add(i, { type: "bar", data: d.bars.map((v: number, k: number) => [k, v]), barWidth: barW, itemStyle: { color: fill, borderColor: stroke, borderWidth: 1.5 }, z: 2 });
      add(i, {
        type: "custom", data: d.errs.map((v: number, k: number) => [k, v, d.bars[k]]), z: 3, clip: false,
        renderItem: (_: any, api: any) => {
          const a = api.coord([api.value(0), api.value(2)]), b = api.coord([api.value(0), api.value(1)]);
          const ls = { stroke, lineWidth: 1.1, fill: "none" };
          return { type: "group", children: [
            { type: "line", shape: { x1: a[0], y1: a[1], x2: b[0], y2: b[1] }, style: ls },
            { type: "line", shape: { x1: b[0] - cap, y1: b[1], x2: b[0] + cap, y2: b[1] }, style: ls },
          ] };
        },
      });
      const pts = d.dots.map((p: number[], k: number) => [Math.floor(k / 3) + p[0], p[1]]);
      add(i, { type: "scatter", data: pts, symbolSize: 3.6, itemStyle: { color: stroke }, z: 4 });
      add(i, { type: "scatter", data: d.stars, symbolSize: 0, z: 4, label: { show: true, position: "inside", offset: [0, 1.5], formatter: (p: any) => p.data[2], fontSize: 7, fontWeight: "bold", color: "#000" } });
    };
    const blueFill = "#bdd4e7", blueStroke = "#1533a6";
    qPanel(223.6, 411.4, 100, 105.7, 1.5, .5, 1, 5.3, 19.6, 29.8, qApobec, blueFill, blueStroke, 19);
    qPanel(360.7, 411.4, 98.6, 105.7, 8, 2, 0, 5.3, 19.7, 29.6, qGrhl3, blueFill, blueStroke, 19);
    qPanel(505.7, 411.4, 98.9, 105.7, 40, 10, 0, 5.3, 19.7, 29.5, qIvl, blueFill, blueStroke, 19);
    qPanel(648.6, 411.4, 98.9, 105.7, 10, 2, 0, 5.3, 19.3, 29.6, qElf3, blueFill, blueStroke, 19);
    qPanel(570.7, 591, 110, 111.7, .4, .1, 1, 6, 22, 33.5, qEdit, "#bde2bb", "#0a9a0a", 21);

    // F overlay (annotation rows measured down from the ruler)
    const ov = addGrid(120, 586, 354, 507, { type: "value", min: genomeMin, max: genomeMax, show: false }, { type: "value", min: 0, max: 507, inverse: true, show: false });
    const rangeS = (data: number[][], y0: number, y1: number, fill: string, z = 6) => add(ov, {
      type: "custom", data, z, clip: false,
      renderItem: (_: any, api: any) => {
        const a = api.coord([api.value(0), y0]), b = api.coord([api.value(1), y1]);
        return { type: "rect", shape: { x: a[0], y: a[1], width: b[0] - a[0], height: b[1] - a[1] }, style: { fill } };
      },
    });
    rangeS(chipGrhl3, 13, 16.3, "#000");
    rangeS(chipWdr5, 19.3, 23, "#000");
    rangeS(enhancersGrey, 37, 43.3, "#666");
    rangeS(enhancersRed, 37, 43.3, "#ff3333");
    rangeS(geneExons, 28, 31.4, "#1b75bb");
    lineS(ov, geneLine, "#1b75bb", .9, { ls: { type: [1, 1] } });
    lineS(ov, scaleBar, "#333", .5);
    rangeS(highlightBand, 10, 507, "rgba(255,10,10,0.35)", 20);

    // F tracks
    const binKb = (genomeMax - genomeMin) / 117;
    trackSignals.forEach((sig, k) => {
      const h = trackBases[k] - trackTops[k];
      const i = addGrid(120, trackTops[k], 354, h, {
        type: "value", min: genomeMin, max: genomeMax, axisLine: { lineStyle: { color: "#888", width: .7 } }, axisTick: { show: false }, axisLabel: { show: false },
      }, {
        type: "value", min: 0, max: h, axisLine: { show: false }, axisTick: { show: true, length: 1.5, lineStyle: { color: "#999", width: .4 }, customValues: [0, h] },
        axisLabel: { fontSize: 3.2, color: "#444", margin: 2, customValues: [0, h], formatter: (v: number) => (v === 0 ? "0" : trackMaxLabels[k]) },
      });
      add(i, { type: "line", data: sig.map((v, b) => [genomeMin + b * binKb, v]), symbol: "none", step: blockyTracks.includes(k) ? "middle" : false, lineStyle: { color: "#000", width: .3 }, areaStyle: { color: "#000", opacity: 1 }, z: 2 });
    });

    // G: the frame and y axis, then the bars on a slightly narrower band
    addGrid(539.3, 762.3, 109, 261, { type: "value", min: 0, max: 1, show: false }, {
      type: "value", min: -.0475, max: 1.049, axisLine: { show: false }, axisTick: { show: true, length: 3, lineStyle: { color: "#888" }, customValues: [0, .25, .5, .75, 1] },
      axisLabel: { customValues: [0, .25, .5, .75, 1], formatter: (v: number) => v.toFixed(2), fontSize: 9.5, color: "#666", margin: 4 },
    }, { show: true, borderColor: "#aaa", borderWidth: 1, backgroundColor: "transparent" });
    const gG = addGrid(541.15, 762.3, 105.5, 261, {
      type: "category", data: geneNames, axisLine: { show: false }, axisTick: { show: true, alignWithLabel: true, length: 3, lineStyle: { color: "#888" } },
      axisLabel: { rotate: 45, fontSize: 9.5, color: "#666", margin: 6, interval: 0 },
    }, { type: "value", min: -.0475, max: 1.049, show: false });
    const shareMap = new Map(cellShares);
    const order = cellShares.map((c) => c[0]);
    [...cellTypesA, ...cellTypesB].forEach((n) => { if (!order.includes(n)) order.push(n); });
    order.forEach((n) => {
      const vals = shareMap.get(n) || [0, 0, 0, 0, 0];
      add(gG, { type: "bar", name: n, stack: "g", data: vals, barWidth: 19, itemStyle: { color: cellColors[n] } });
    });
    const legendBase = { orient: "vertical", itemWidth: 8, itemHeight: 9, itemGap: .67, padding: 0, selectedMode: false, icon: "rect", textStyle: { fontSize: 5.4, color: "#222", fontFamily: FONT } };
    const legend = [
      { ...legendBase, left: 658, top: 832.5, data: cellTypesA },
      { ...legendBase, left: 709, top: 832.5, data: cellTypesB },
    ];

    // Texts
    const arrow = { type: "polygon", z: 100, silent: true, shape: { points: [[143.5, 257.7], [151, 250.5], [151, 254], [167, 254], [167, 261.4], [151, 261.4], [151, 265]] }, style: { fill: "#0f4c68", stroke: "#222", lineWidth: .7 } };
    const up = Math.PI / 2;
    const italic = (size: number) => ({ i: { fontStyle: "italic", fontSize: size, fontFamily: FONT, fill: "#333" }, n: { fontSize: size, fontFamily: FONT, fill: "#333" } });
    const yMrna = (x: number, y: number, gene: string) => T(x, y, `{i|${gene}}{n| mRNA relative to }{i|TBP}`, { size: 6.7, rot: up, align: "center", fill: "#333", rich: italic(6.7) });
    const elements: any[] = [
      T(2.7, 11, "A", { size: 15, weight: "bold" }), T(214, 11, "B", { size: 15, weight: "bold" }), T(455, 14, "C", { size: 15, weight: "bold" }),
      T(165.7, 385, "D", { size: 15, weight: "bold" }), T(483, 586.7, "E", { size: 15, weight: "bold" }), T(9.3, 586.7, "F", { size: 15, weight: "bold" }), T(485, 741, "G", { size: 15, weight: "bold" }),
      T(162, 55, "1", { size: 13 }), T(162, 83, "0.5", { size: 13 }), T(162, 108, "0", { size: 13 }), T(162, 136, "\u22120.5", { size: 13 }), T(162, 163, "\u22121", { size: 13 }),
      arrow,
      T(337.7, 4, "GRHL3(+)", { size: 7, weight: "bold", align: "center" }), T(338, 177.7, "umap_1", { size: 6.8, align: "center", fill: "#222" }), T(236.7, 87, "umap_2", { size: 6.8, rot: up, align: "center", fill: "#222" }),
      T(444, 71.3, "0.3", { size: 5.5 }), T(444, 84.7, "0.2", { size: 5.5 }), T(444, 97.3, "0.1", { size: 5.5 }),
      T(342, 198, "APOBEC3A", { size: 7, weight: "bold", align: "center" }), T(331.7, 372, "umap_1", { size: 6.8, align: "center", fill: "#222" }), T(239, 281.7, "umap_2", { size: 6.8, rot: up, align: "center", fill: "#222" }),
      T(452, 267.3, "4", { size: 5.5 }), T(452, 276.7, "3", { size: 5.5 }), T(452, 286, "2", { size: 5.5 }), T(452, 295, "1", { size: 5.5 }), T(452, 304, "0", { size: 5.5 }),
      T(607.7, 12, "****", { size: 5, weight: "bold", align: "center", fill: "#333" }),
      T(481.7, 118, "APOBEC3A (log10+1)", { size: 10.5, rot: up, align: "center", fill: "#222" }), T(607.7, 245, "GRHL3 Status", { size: 10, align: "center", fill: "#111" }),
      T(480.7, 306.7, "Number of Cells", { size: 8.5, rot: up, align: "center", fill: "#222" }), T(584, 372.5, "Cell status (A3A Expression/GRHL3 Activity)", { size: 8, align: "center", fill: "#222" }),
      yMrna(197.5, 463.6, "APOBEC3A"), yMrna(340.4, 461.8, "GRHL3"), yMrna(481.4, 462.9, "IVL"), yMrna(624.3, 461.8, "ELF3"),
      T(530.7, 646, "RNA editing activity", { size: 7.5, rot: up, align: "center", fill: "#222" }), T(540, 646, "(Percentage of DDOST 558C>U)", { size: 7.5, rot: up, align: "center", fill: "#222" }),
      T(118.7, 600.7, "GRHL3 ChIP-seq (diff. NHEK)", { size: 6.6, align: "right", fill: "#333" }), T(118.7, 607.7, "WDR5 ChIP-seq (diff. NHEK)", { size: 6.6, align: "right", fill: "#333" }), T(118, 625.7, "Genehancer Regulatory Elements", { size: 7, align: "right", fill: "#333" }),
      T(375, 615.7, "APOBEC3A", { size: 9.5, weight: "bold", fill: "#1b75bb" }),
      T(296, 641.7, "H3K27AC", { size: 8, weight: "bold", align: "center" }), T(298.8, 791.7, "H3K4ME1", { size: 8, weight: "bold", align: "center" }), T(298.8, 944.3, "H3K4ME3", { size: 8, weight: "bold", align: "center" }),
      T(120, 589.3, "Scale", { size: 3.4, align: "right" }), T(120, 593, "chr22", { size: 3.4, align: "right" }), T(255, 589.3, "10 kb", { size: 3.4, align: "right" }), T(341, 589.3, "hg38", { size: 3.4 }),
      T(511.7, 892.7, "Proportion", { size: 10.5, rot: up, align: "center", fill: "#111" }), T(594, 1072.7, "Gene", { size: 10.5, align: "center", fill: "#111" }), T(658, 824, "Cell Type", { size: 11, fill: "#111" }),
    ];
    coordLabels.forEach((s, k) => elements.push(T(137 + k * 42.33, 593, s, { size: 3.2, align: "center", fill: "#222" })));
    trackNames.forEach((s, k) => elements.push(T(trackLabelX[k], trackLabelY[k], s, { size: 7.2, weight: "bold", fill: "#111" })));

    chart.setOption({
      animation: false,
      backgroundColor: "#fff",
      textStyle: { fontFamily: FONT },
      tooltip: { show: false },
      grid, xAxis, yAxis, series, visualMap, legend,
      graphic: { elements },
    });
    return () => chart.dispose();
  }, []);
  return <div ref={ref} style={{ position: "absolute", left: 0, top: 0, width: 760, height: 1093 }} />;
}
